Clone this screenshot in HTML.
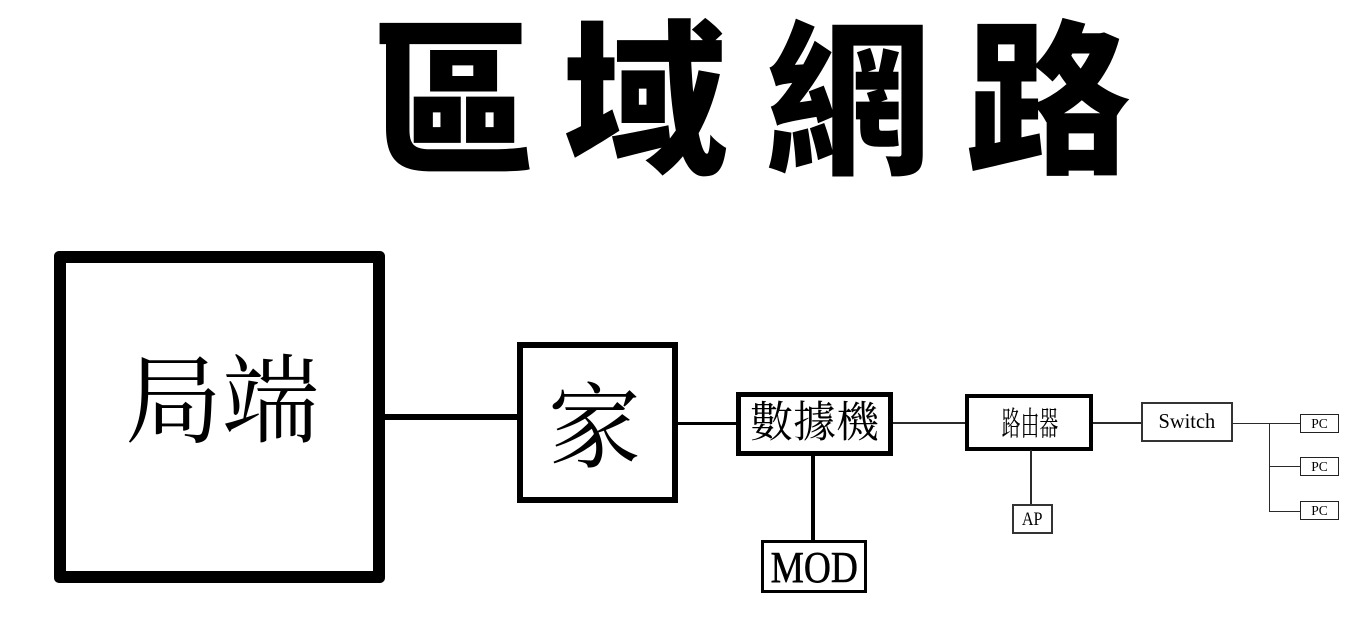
<!DOCTYPE html>
<html>
<head>
<meta charset="utf-8">
<style>
  html, body { margin:0; padding:0; }
  body { width:1351px; height:640px; position:relative; background:#fff; overflow:hidden; }
  .a { position:absolute; box-sizing:border-box; }
  .t { position:absolute; white-space:nowrap; color:#000; }
  .title { font-family:"Liberation Sans","Noto Sans CJK TC",sans-serif; font-weight:900; font-size:165px; line-height:165px; width:220px; text-align:center; transform:scaleY(1.01); transform-origin:50% 50%; }
  .cjk { font-family:"Liberation Serif","Noto Serif CJK SC",serif; }
  .lat { font-family:"Liberation Serif",serif; }
  .ln { position:absolute; background:#000; }
  .tn { position:absolute; background:#2a2a2a; }
  .pc { position:absolute; box-sizing:border-box; border:1px solid #222; width:39px; height:19px; display:flex; align-items:center; justify-content:center; font-family:"Liberation Serif",serif; font-size:13.5px; line-height:1; }
</style>
</head>
<body>
  <!-- Title -->
  <div class="t title" style="left:343px; top:21px;">區</div>
  <div class="t title" style="left:535px; top:21px;">域</div>
  <div class="t title" style="left:738px; top:21px;">網</div>
  <div class="t title" style="left:938px; top:21px;">路</div>

  <!-- 局端 big box -->
  <div class="a" style="left:54px; top:251px; width:331px; height:332px; border:12px solid #000; border-radius:5px;"></div>
  <div class="t cjk" style="left:125px; top:354px; font-size:97px; line-height:97px;">局端</div>

  <!-- connector 局端 -> 家 -->
  <div class="ln" style="left:384px; top:414px; width:134px; height:6px;"></div>

  <!-- 家 box -->
  <div class="a" style="left:517px; top:342px; width:161px; height:161px; border:6px solid #000;"></div>
  <div class="t cjk" style="left:548px; top:383px; font-size:93px; line-height:93px;">家</div>

  <!-- connector 家 -> 數據機 -->
  <div class="ln" style="left:678px; top:422px; width:59px; height:3px;"></div>

  <!-- 數據機 box -->
  <div class="a" style="left:736px; top:392px; width:157px; height:64px; border:5px solid #000;"></div>
  <div class="t cjk" style="left:750px; top:402px; font-size:43px; line-height:43px;">數據機</div>

  <!-- connector 數據機 -> MOD -->
  <div class="ln" style="left:811px; top:455px; width:4px; height:86px;"></div>

  <!-- MOD box -->
  <div class="a" style="left:761px; top:540px; width:106px; height:53px; border:3px solid #000;"></div>
  <div class="t lat" style="left:763px; top:546px; width:102px; text-align:center; font-size:44px; line-height:44px; transform:scaleX(0.85); transform-origin:50% 50%; -webkit-text-stroke:0.6px #000;">MOD</div>

  <!-- connector 數據機 -> 路由器 -->
  <div class="tn" style="left:893px; top:422px; width:73px; height:2px;"></div>

  <!-- 路由器 box -->
  <div class="a" style="left:965px; top:394px; width:128px; height:57px; border:4px solid #000;"></div>
  <div class="t cjk" style="left:980px; top:409px; width:100px; text-align:center; font-size:33px; line-height:33px; transform:scaleX(0.57); transform-origin:50% 50%;">路由器</div>

  <!-- AP -->
  <div class="tn" style="left:1030px; top:450px; width:2px; height:54px;"></div>
  <div class="a" style="left:1012px; top:504px; width:41px; height:30px; border:2px solid #333;"></div>
  <div class="t lat" style="left:1012px; top:504px; width:41px; height:30px; display:flex; align-items:center; justify-content:center; font-size:19px; line-height:1;"><span style="display:inline-block; transform:scaleX(0.85);">AP</span></div>

  <!-- connector 路由器 -> Switch -->
  <div class="tn" style="left:1093px; top:422px; width:48px; height:1.5px;"></div>

  <!-- Switch box -->
  <div class="a" style="left:1141px; top:402px; width:92px; height:40px; border:2px solid #333;"></div>
  <div class="t lat" style="left:1141px; top:402px; width:92px; height:40px; display:flex; align-items:center; justify-content:center; font-size:21.5px; line-height:1;"><span style="display:inline-block; transform:scaleX(0.95);">Switch</span></div>

  <!-- Switch -> PCs -->
  <div class="tn" style="left:1233px; top:422.5px; width:37px; height:1px;"></div>
  <div class="tn" style="left:1269px; top:422.5px; width:1px; height:89px;"></div>
  <div class="tn" style="left:1269px; top:422.5px; width:31px; height:1px;"></div>
  <div class="tn" style="left:1269px; top:466px; width:31px; height:1px;"></div>
  <div class="tn" style="left:1269px; top:510.5px; width:31px; height:1px;"></div>

  <div class="pc" style="left:1300px; top:414px;">PC</div>
  <div class="pc" style="left:1300px; top:457px;">PC</div>
  <div class="pc" style="left:1300px; top:501px;">PC</div>
</body>
</html>
